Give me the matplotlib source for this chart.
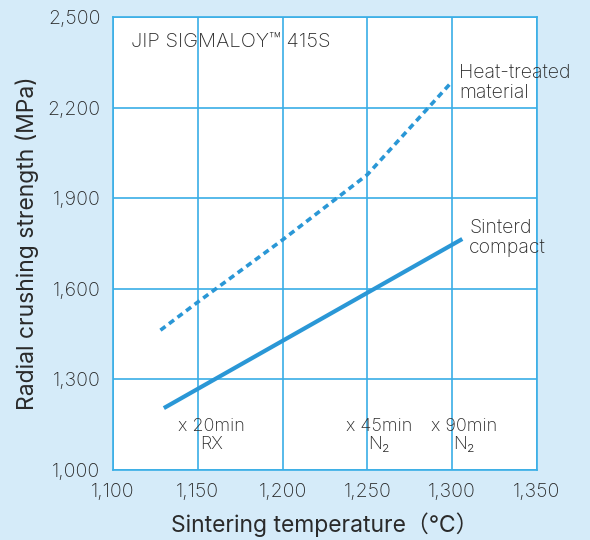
import matplotlib
matplotlib.use("Agg")
import matplotlib.pyplot as plt

plt.rcParams['font.family'] = ['Inter', 'Noto Sans CJK JP', 'DejaVu Sans']
plt.rcParams['font.weight'] = 'light'
plt.rcParams['lines.scale_dashes'] = False

# Sintering temperature (°C) vs. radial crushing strength (MPa)
temp_sintered = [1130, 1306]
strength_sintered = [1205, 1765]

temp_heat = [1128, 1150, 1200, 1250, 1299]
strength_heat = [1463, 1556, 1762, 1978, 2280]

x_ticks = [1100, 1150, 1200, 1250, 1300, 1350]
y_ticks = [1000, 1300, 1600, 1900, 2200, 2500]

conditions = ["x 20min\nRX", "x 45min\nN₂", "x 90min\nN₂"]
condition_x = [1158, 1257, 1307]

BG = "#d5ebf9"
GRID = "#3aaee6"
LINE = "#2a97d6"
TEXT = "#2a2a2a"

fig = plt.figure(figsize=(5.9, 5.4), dpi=100, facecolor=BG)
ax = fig.add_axes([0.1915, 0.1296, 0.7185, 0.8389])
ax.set_facecolor("white")

ax.set_xlim(1100, 1350)
ax.set_ylim(1000, 2500)
ax.set_xticks(x_ticks)
ax.set_yticks(y_ticks)
ax.set_xticklabels([f"{v:,}" for v in x_ticks])
ax.set_yticklabels([f"{v:,}" for v in y_ticks])
ax.tick_params(length=0, pad=9, labelsize=14, labelcolor=TEXT)
ax.grid(True, color=GRID, linewidth=1.2)
ax.set_axisbelow(True)
for s in ax.spines.values():
    s.set_color(GRID)
    s.set_linewidth(1.2)

ax.plot(temp_sintered, strength_sintered, color=LINE, linewidth=3.0,
        solid_capstyle="butt", zorder=3)
ax.plot(temp_heat, strength_heat, color=LINE, linewidth=2.6,
        dashes=(4.5, 3.2), zorder=3)

ax.text(1110.5, 2417, "JIP SIGMALOY™ 415S", fontsize=14.5, color=TEXT,
        ha="left", va="center")
ax.text(1304, 2282, "Heat-treated\nmaterial", fontsize=14, color=TEXT,
        ha="left", va="center", linespacing=1.15, clip_on=False)
ax.text(1310, 1768, "Sinterd\ncompact", fontsize=14, color=TEXT,
        ha="left", va="center", linespacing=1.15, clip_on=False)
for label, cx in zip(conditions, condition_x):
    ax.text(cx, 1114, label, fontsize=13, color=TEXT, ha="center",
            va="center", linespacing=1.1)

ax.set_xlabel("Sintering temperature（℃）", fontsize=16.5, color=TEXT,
              va="center")
ax.set_ylabel("Radial crushing strength (MPa)", fontsize=16.5, color=TEXT,
              va="center")
ax.xaxis.set_label_coords(0.5, -0.121)
ax.yaxis.set_label_coords(-0.203, 0.5)

fig.savefig("out.png", dpi=100, facecolor=BG)
